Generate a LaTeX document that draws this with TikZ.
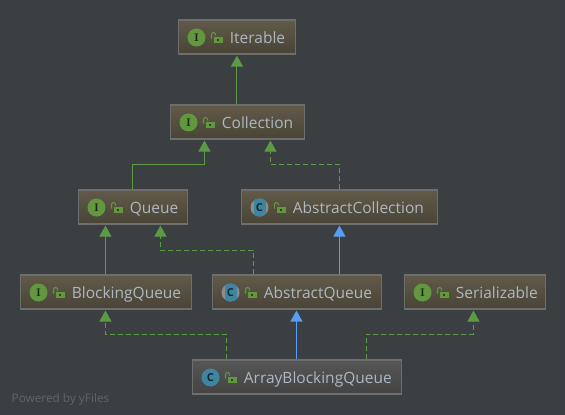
\documentclass[tikz,border=0pt]{standalone}
\usepackage{fontspec}
\setmainfont{Open Sans}
\usetikzlibrary{arrows.meta,calc}
\definecolor{bgc}{HTML}{3B3F41}
\definecolor{boxtop}{HTML}{625A49}
\definecolor{boxbot}{HTML}{484436}
\definecolor{graytop}{HTML}{565656}
\definecolor{graybot}{HTML}{434343}
\definecolor{edgeg}{HTML}{6E6E6E}
\definecolor{grn}{HTML}{5C9A48}
\definecolor{blu}{HTML}{589DF6}
\definecolor{txtc}{HTML}{AEB8C2}
\definecolor{icong}{HTML}{62963F}
\definecolor{iconb}{HTML}{40859F}
\definecolor{icongr}{HTML}{8C8C8C}
\tikzset{
  x=1pt,y=-1pt,
  umlbox/.style={draw=edgeg,line width=1.1pt,top color=boxtop,bottom color=boxbot,inner sep=0pt,minimum height=34pt},
  abcbox/.style={umlbox,top color=graytop,bottom color=graybot},
  lab/.style={text=txtc,font=\fontsize{15.5}{17}\selectfont,anchor=base west,inner sep=0pt},
  conn/.style={draw=grn,line width=1pt,-{Triangle[width=12pt,length=11pt,fill=grn]},shorten >=1pt},
  connd/.style={conn,dash pattern=on 5pt off 3pt},
  inh/.style={conn,draw=blu,-{Triangle[width=12pt,length=11pt,fill=blu]}},
  iconlet/.style={font=\fontsize{11}{11}\selectfont\bfseries,inner sep=0pt},
}
% name, left, right, top, text, kind (I/C/A), box style
\newcommand{\umlitem}[7]{%
  \node[#7,minimum width=#3pt-#2pt] (#1) at ({(#2+#3)/2},#4+17) {};
  \coordinate (#1ic) at (#2+18,#4+17.5);
  \if#6I
    \fill[icong] (#1ic) circle (9pt);
    \node[iconlet,text=black!75!icong] (#1l) at (#1ic) {\fontfamily{lmr}\selectfont I};
  \fi
  \if#6C
    \fill[iconb] (#1ic) circle (9pt);
    \node[iconlet,text=black!70!iconb] (#1l) at (#1ic) {C};
  \fi
  \if#6A
    \fill[icongr] (#1ic) circle (9pt);
    \begin{scope}
      \clip (#1ic) circle (9pt);
      \fill[iconb] ($(#1ic)+(-6,-10)$) rectangle ($(#1ic)+(6,10)$);
    \end{scope}
    \node[iconlet,text=black!70!iconb] (#1l) at (#1ic) {C};
  \fi
  \draw[icong,line width=1.1pt] ($(#1ic)+(15,1)$) -- ($(#1ic)+(15,-3)$) arc[start angle=180,end angle=360,radius=2] -- ++(0,1);
  \fill[icong] ($(#1ic)+(17,-1)$) rectangle ($(#1ic)+(26,5)$);
  \fill[black!55!icong] ($(#1ic)+(20.5,1)$) rectangle ($(#1ic)+(22.5,3)$);
  \node[lab] (#1t) at (#2+51.2,#4+23.5) {#5};
}
\begin{document}
\begin{tikzpicture}
\useasboundingbox (-0.5,0) rectangle (564.5,415);
\fill[bgc] (-0.5,0) rectangle (564.5,415);
\umlitem{iter}{178}{295}{20}{Iterable}{I}{umlbox}
\umlitem{coll}{170}{304}{105}{Collection}{I}{umlbox}
\umlitem{queue}{78}{187}{190}{Queue}{I}{umlbox}
\umlitem{acoll}{241}{437}{190}{AbstractCollection}{A}{umlbox}
\umlitem{bq}{20}{191}{275}{BlockingQueue}{I}{umlbox}
\umlitem{aq}{212}{381}{275}{AbstractQueue}{A}{umlbox}
\umlitem{ser}{404}{545}{275}{Serializable}{I}{umlbox}
\umlitem{abq}{192}{401}{360}{ArrayBlockingQueue}{C}{abcbox}
\coordinate (e0) at ($(iter.south west)+(59,0)$);
\draw[conn] (coll.north -| e0) -- (e0);
\coordinate (e1a) at ($(queue.north west)+(54.5,0)$);
\coordinate (e1b) at ($(coll.south west)+(34.5,0)$);
\draw[conn] (e1a) -- ++(0,-25) -| (e1b);
\coordinate (e2a) at ($(acoll.north west)+(98.5,0)$);
\coordinate (e2b) at ($(coll.south west)+(100.5,0)$);
\draw[connd] (e2a) -- ++(0,-25) -| (e2b);
\coordinate (e3b) at ($(queue.south west)+(27.5,0)$);
\draw[conn] (bq.north -| e3b) -- (e3b);
\coordinate (e4a) at ($(aq.north west)+(41.5,0)$);
\coordinate (e4b) at ($(queue.south west)+(82.5,0)$);
\draw[connd] (e4a) -- ++(0,-24) -| (e4b);
\coordinate (e5a) at ($(aq.north west)+(127.5,0)$);
\draw[inh] (e5a) -- (e5a |- acoll.south);
\coordinate (e6a) at ($(abq.north west)+(34.5,0)$);
\coordinate (e6b) at ($(bq.south west)+(85.5,0)$);
\draw[connd] (e6a) -- ++(0,-25) -| (e6b);
\coordinate (e8) at ($(abq.north west)+(104.5,0)$);
\draw[inh,line width=1.3pt] (e8) -- (e8 |- aq.south);
\coordinate (e7a) at ($(abq.north west)+(174.5,0)$);
\coordinate (e7b) at ($(ser.south west)+(69.5,0)$);
\draw[connd] (e7a) -- ++(0,-25) -| (e7b);
\node[anchor=base west,inner sep=0pt,text=white!20!bgc,font=\fontsize{11.8}{12}\selectfont] (wm) at (11,402) {Powered by yFiles};
\end{tikzpicture}
\end{document}
